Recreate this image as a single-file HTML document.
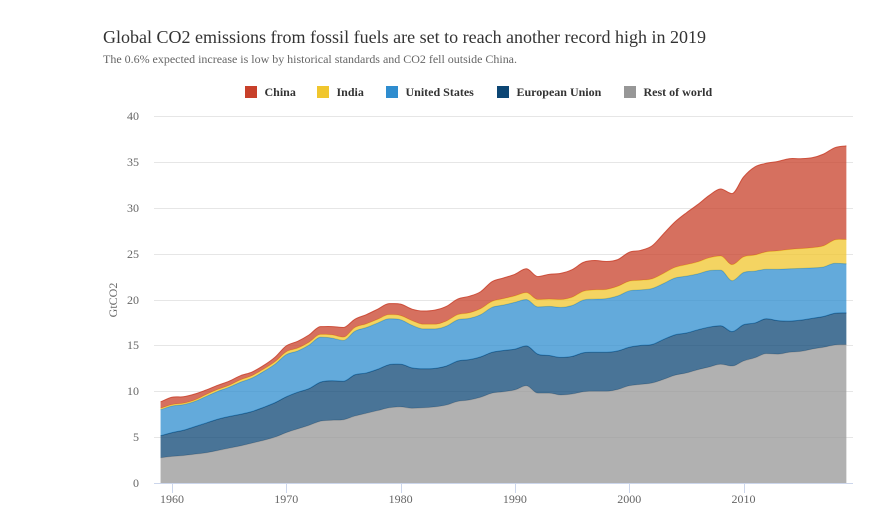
<!DOCTYPE html>
<html lang="en">
<head>
<meta charset="utf-8">
<title>Global CO2 emissions</title>
<style>
html,body{margin:0;padding:0;background:#fff;}
#chart{display:block;width:890px;height:519px;font-family:"Liberation Serif",serif;}
</style>
</head>
<body>
<svg id="chart" xmlns="http://www.w3.org/2000/svg" width="890" height="519" viewBox="0 0 890 519">
  <rect x="0" y="0" width="890" height="519" fill="#fff"/>
  <text x="103" y="43" font-size="18" fill="#333" textLength="603" lengthAdjust="spacing">Global CO2 emissions from fossil fuels are set to reach another record high in 2019</text>
  <text x="103" y="63" font-size="12" fill="#666" textLength="414" lengthAdjust="spacing">The 0.6% expected increase is low by historical standards and CO2 fell outside China.</text>
  <g id="grid"></g>
  <g id="areas"></g>
  <g id="axes"></g>
  <g id="legend"></g>
  <text transform="translate(117,300) rotate(-90)" text-anchor="middle" font-size="12" fill="#666">GtCO2</text>
</svg>
<script>
const startYear = 1959;
const yTicks = [0, 5, 10, 15, 20, 25, 30, 35, 40];
const xTicks = [1960, 1970, 1980, 1990, 2000, 2010];
const seriesNames = ['China', 'India', 'United States', 'European Union', 'Rest of world'];
const seriesColors = ['#c8402a', '#f0c62e', '#2f8dcf', '#0c4674', '#979797'];
const restOfWorld = [2.8,2.95,3.05,3.2,3.35,3.6,3.85,4.1,4.4,4.7,5.05,5.55,5.95,6.35,6.8,6.9,6.95,7.35,7.65,7.95,8.25,8.35,8.2,8.25,8.35,8.55,8.95,9.1,9.4,9.85,10.0,10.2,10.65,9.85,9.85,9.65,9.75,10.0,10.05,10.05,10.25,10.65,10.8,10.95,11.35,11.8,12.05,12.4,12.7,13.0,12.8,13.35,13.7,14.15,14.1,14.3,14.4,14.65,14.85,15.1,15.15];
const europeanUnion = [2.4,2.6,2.75,3.0,3.25,3.4,3.45,3.45,3.45,3.6,3.75,3.9,4.0,4.0,4.25,4.3,4.2,4.5,4.4,4.5,4.7,4.65,4.4,4.25,4.2,4.25,4.4,4.4,4.4,4.45,4.5,4.45,4.35,4.25,4.1,4.1,4.1,4.25,4.25,4.25,4.2,4.2,4.25,4.2,4.35,4.4,4.35,4.35,4.35,4.2,3.75,3.95,3.8,3.8,3.65,3.4,3.4,3.35,3.35,3.45,3.45];
const unitedStates = [2.85,2.9,2.8,2.75,2.9,3.05,3.2,3.5,3.65,3.9,4.2,4.6,4.5,4.75,4.9,4.65,4.45,4.75,4.95,5.05,5.0,4.85,4.65,4.35,4.3,4.35,4.5,4.5,4.6,4.9,4.95,5.1,5.05,5.15,5.35,5.45,5.55,5.75,5.8,5.85,6.0,6.15,6.05,6.1,6.1,6.2,6.2,6.1,6.15,6.05,5.55,5.7,5.65,5.4,5.6,5.7,5.65,5.5,5.4,5.45,5.35];
const india = [0.15,0.15,0.15,0.15,0.2,0.2,0.2,0.25,0.25,0.25,0.25,0.3,0.3,0.3,0.3,0.35,0.35,0.4,0.4,0.4,0.45,0.45,0.5,0.5,0.5,0.55,0.55,0.6,0.65,0.65,0.7,0.7,0.75,0.8,0.8,0.85,0.9,0.95,1.0,1.0,1.05,1.05,1.05,1.05,1.1,1.15,1.25,1.3,1.4,1.55,1.75,1.7,1.75,1.9,2.0,2.1,2.15,2.2,2.3,2.55,2.65];
const china = [0.7,0.8,0.7,0.65,0.5,0.45,0.45,0.45,0.4,0.4,0.5,0.65,0.75,0.8,0.85,0.9,1.05,0.9,1.0,1.1,1.2,1.25,1.25,1.45,1.55,1.6,1.7,1.8,1.85,2.15,2.25,2.35,2.6,2.5,2.7,2.85,3.0,3.15,3.2,3.05,2.9,3.15,3.25,3.6,4.3,4.95,5.65,6.25,6.8,7.3,7.75,8.7,9.6,9.65,9.75,9.9,9.8,9.8,10.0,10.05,10.2];

const NS = 'http://www.w3.org/2000/svg';
function xScale(year) { return 172 + (year - 1960) * 11.43; }
function yScale(v) { return 483.5 - v * 9.175; }
function make(tag, attrs, parent, text) {
  const el = document.createElementNS(NS, tag);
  Object.keys(attrs).forEach(function (k) { el.setAttribute(k, attrs[k]); });
  if (text !== undefined) el.textContent = text;
  parent.appendChild(el);
  return el;
}
function curve(pts) {
  // monotone-x cubic segments
  const n = pts.length, m = [], s = [];
  for (let i = 0; i < n - 1; i++) s[i] = (pts[i + 1][1] - pts[i][1]) / (pts[i + 1][0] - pts[i][0]);
  m[0] = s[0]; m[n - 1] = s[n - 2];
  for (let i = 1; i < n - 1; i++) m[i] = s[i - 1] * s[i] <= 0 ? 0 : (s[i - 1] + s[i]) / 2;
  let d = '';
  for (let i = 0; i < n - 1; i++) {
    const h = (pts[i + 1][0] - pts[i][0]) / 3;
    d += 'C' + (pts[i][0] + h).toFixed(2) + ',' + (pts[i][1] + m[i] * h).toFixed(2) + ' ' +
         (pts[i + 1][0] - h).toFixed(2) + ',' + (pts[i + 1][1] - m[i + 1] * h).toFixed(2) + ' ' +
         pts[i + 1][0].toFixed(2) + ',' + pts[i + 1][1].toFixed(2);
  }
  return d;
}

const grid = document.getElementById('grid');
yTicks.forEach(function (t) {
  if (t === 0) return;
  const line = make('line', { x1: 154, x2: 853, y1: Math.floor(yScale(t)) + 0.5, y2: Math.floor(yScale(t)) + 0.5, stroke: '#e6e6e6', 'stroke-width': 1 }, grid);
  
  
});

const areas = document.getElementById('areas');
const bottomFirst = [restOfWorld, europeanUnion, unitedStates, india, china];
const bottomNames = ['rest-of-world', 'european-union', 'united-states', 'india', 'china'];
const bottomColors = ['#979797', '#0c4674', '#2f8dcf', '#f0c62e', '#c8402a'];
let base = restOfWorld.map(function () { return 0; });
bottomFirst.forEach(function (vals, si) {
  const tops = vals.map(function (v, i) { return base[i] + v; });
  const topPts = tops.map(function (v, i) { return [xScale(startYear + i), yScale(v)]; });
  const botPts = base.map(function (v, i) { return [xScale(startYear + i), yScale(v)]; }).reverse();
  const topD = 'M' + topPts[0][0].toFixed(2) + ',' + topPts[0][1].toFixed(2) + curve(topPts);
  const area = make('path', {
    d: topD + 'L' + botPts[0][0].toFixed(2) + ',' + botPts[0][1].toFixed(2) + curve(botPts) + 'Z',
    fill: bottomColors[si], 'fill-opacity': 0.75, stroke: 'none'
  }, areas);
  
  
  const edge = make('path', { d: topD, fill: 'none', stroke: bottomColors[si], 'stroke-width': 1, 'stroke-opacity': 0.85 }, areas);
  
  
  base = tops;
});

const axes = document.getElementById('axes');
const xAxis = make('line', { x1: 154, x2: 853, y1: 483.5, y2: 483.5, stroke: '#ccd6eb', 'stroke-width': 1 }, axes);


xTicks.forEach(function (t) {
  const px = Math.round(xScale(t)) + 0.5;
  const tick = make('line', { x1: px, x2: px, y1: 484, y2: 493, stroke: '#ccd6eb', 'stroke-width': 1 }, axes);
  
  
  const label = make('text', { x: xScale(t), y: 503, 'text-anchor': 'middle', 'font-size': 12, fill: '#666' }, axes, String(t));
  
  
});
yTicks.forEach(function (t) {
  const label = make('text', { x: 139, y: Math.floor(yScale(t)) + 4, 'text-anchor': 'end', 'font-size': 12, fill: '#666' }, axes, String(t));
  
  
});

const legend = document.getElementById('legend');
const legendSwatchX = [245, 317, 386, 497, 624];
seriesNames.forEach(function (name, i) {
  const g = make('g', {}, legend);
  
  
  const swatch = make('rect', { x: legendSwatchX[i], y: 86, width: 12, height: 12, fill: seriesColors[i] }, g);
  
  
  const txt = make('text', { x: legendSwatchX[i] + 19.5, y: 96, 'font-size': 12, 'font-weight': 700, fill: '#333' }, g, name);
  
  
});
</script>
</body>
</html>
